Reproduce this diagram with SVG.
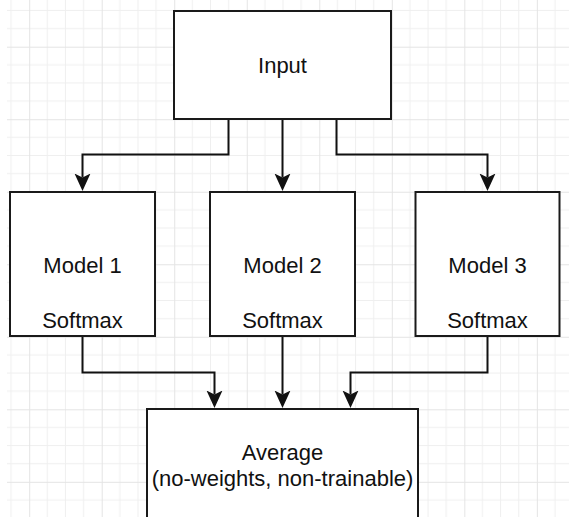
<svg xmlns="http://www.w3.org/2000/svg" width="569" height="517" viewBox="0 0 569 517">
  <style>
    .box { fill: #ffffff; stroke: #1a1a1a; stroke-width: 2; }
    .lbl { font-family: "Liberation Sans", Arial, sans-serif; font-size: 22px; fill: #111111; text-anchor: middle; }
    .conn { fill: none; stroke: #111111; stroke-width: 2; }
  </style>
  <defs>
    <pattern id="grid" patternUnits="userSpaceOnUse" x="29.2" y="46.7" width="72.52" height="72.52">
      <path d="M18.13,0 V72.52 M36.26,0 V72.52 M54.39,0 V72.52 M0,18.13 H72.52 M0,36.26 H72.52 M0,54.39 H72.52" stroke="#efefef" stroke-width="1" fill="none"/>
      <path d="M0.5,0 V72.52 M0,0.5 H72.52" stroke="#e4e4e4" stroke-width="1" fill="none"/>
    </pattern>
    <marker id="arrow" markerUnits="userSpaceOnUse" markerWidth="22" markerHeight="20" refX="4" refY="8" orient="auto">
      <path d="M0,0 L17.5,8 L0,16 L4,8 Z" fill="#111111"/>
    </marker>
  </defs>
  <rect x="0" y="0" width="569" height="517" fill="#ffffff"/>
  <rect x="7" y="0" width="562" height="517" fill="url(#grid)"/>

  <g id="connectors">
    <path class="conn" d="M228.5,119 V154.5 H82.5 V177.5" marker-end="url(#arrow)"/>
    <path class="conn" d="M282.5,119 V177.5" marker-end="url(#arrow)"/>
    <path class="conn" d="M336.5,119 V154.5 H487.5 V177.5" marker-end="url(#arrow)"/>
    <path class="conn" d="M82.5,336 V372.5 H214.5 V394.5" marker-end="url(#arrow)"/>
    <path class="conn" d="M282.5,336 V394.5" marker-end="url(#arrow)"/>
    <path class="conn" d="M487.5,336 V372.5 H350.5 V394.5" marker-end="url(#arrow)"/>
  </g>

  <g id="input">
    <rect class="box" x="174" y="11" width="217" height="108"/>
    <text class="lbl" x="282.5" y="73">Input</text>
  </g>
  <g id="model1">
    <rect class="box" x="10" y="192" width="145" height="144"/>
    <text class="lbl" x="82.5" y="273">Model 1</text>
    <text class="lbl" x="82.5" y="327.5">Softmax</text>
  </g>
  <g id="model2">
    <rect class="box" x="210" y="192" width="145" height="144"/>
    <text class="lbl" x="282.5" y="273">Model 2</text>
    <text class="lbl" x="282.5" y="327.5">Softmax</text>
  </g>
  <g id="model3">
    <rect class="box" x="415.5" y="192" width="144" height="144"/>
    <text class="lbl" x="487.5" y="273">Model 3</text>
    <text class="lbl" x="487.5" y="327.5">Softmax</text>
  </g>
  <g id="average">
    <rect class="box" x="147" y="409" width="271" height="120"/>
    <text class="lbl" x="282.5" y="460">Average</text>
    <text class="lbl" x="282.5" y="485.5">(no-weights, non-trainable)</text>
  </g>
</svg>
